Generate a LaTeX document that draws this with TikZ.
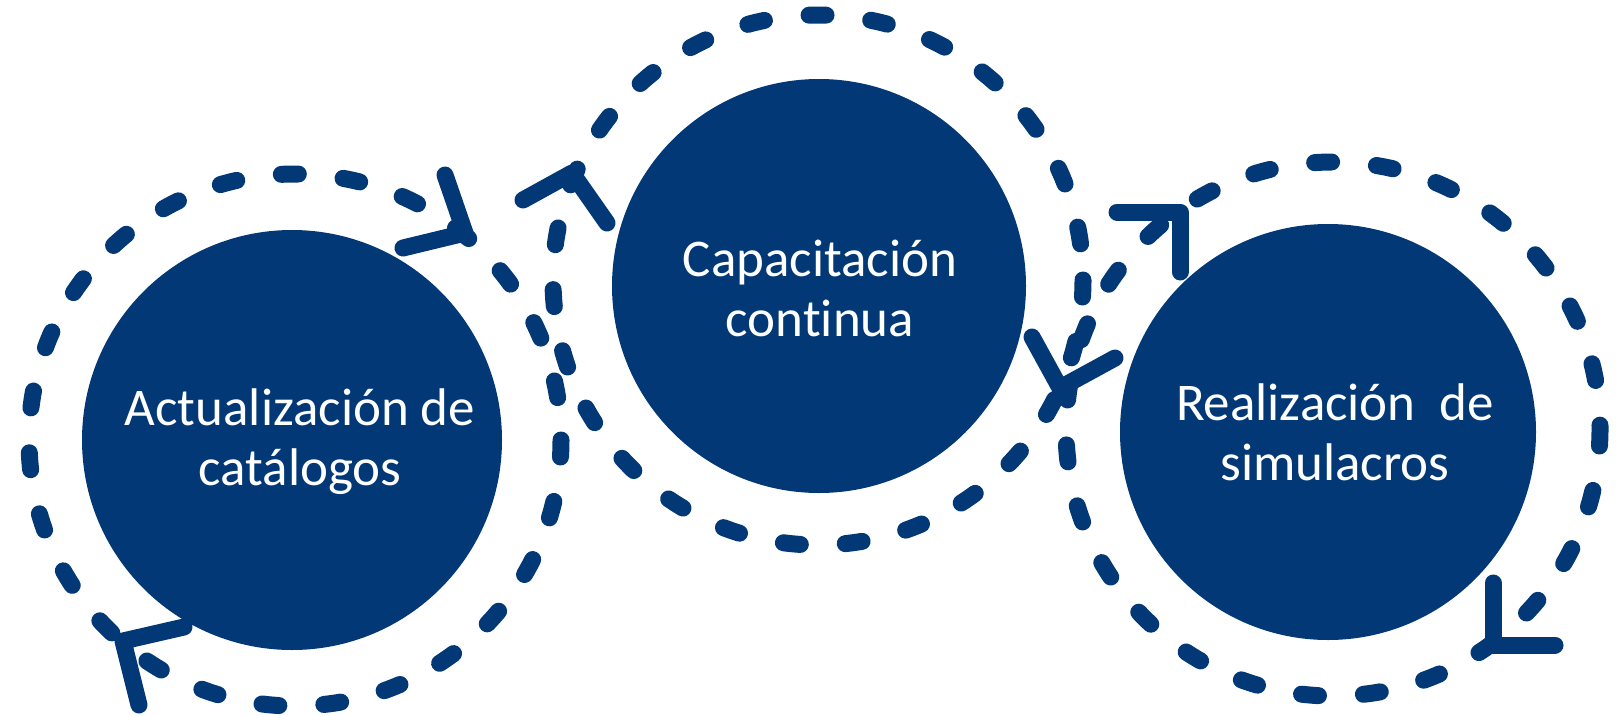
\documentclass[tikz,border=0pt]{standalone}
\usepackage{fontspec}
\setmainfont{Carlito}[Ligatures=NoCommon]
\definecolor{navy}{RGB}{2,56,117}
\begin{document}
\begin{tikzpicture}[x=1pt,y=-1pt,
  disc/.style={circle, fill=navy, minimum size=#1, inner sep=0pt},
  txt/.style={text=white, align=center, inner sep=0pt, font=\fontsize{53}{60}\selectfont},
  ring/.style={draw=navy, line width=17pt, line cap=round, dash pattern=on 17pt off 45pt},
  head/.style={draw=navy, line width=17pt, line cap=round, line join=round}]
\useasboundingbox (0,0) rectangle (1622,715);
% dashed rings
\draw[ring] (295,440) circle (266);
\draw[ring] (818,280) circle (265);
\draw[ring] (1333,429) circle (267);
% filled discs
\node[disc=420pt] (c1) at (292,440) {};
\node[disc=414pt] (c2) at (819,286) {};
\node[disc=416pt] (c3) at (1328,432) {};
% texts
\node[txt] (l1) at (300,442) {Actualización de\\catálogos};
\node[txt] (l2) at (820,288) {Capacitación\\continua};
\node[txt] (l3) at (1335,432) {Realización\ \ de\\simulacros};
% arrow heads
\coordinate (t1) at (465,233);
\coordinate (t2) at (123,641);
\coordinate (t3) at (572,173);
\coordinate (t4) at (1060,388);
\coordinate (t5) at (1180,212);
\coordinate (t6) at (1493,645);
\draw[head] (445,175) -- (t1) -- (403,248);
\draw[head] (184,627) -- (t2) -- (139,705);
\draw[head] (523,200) -- (t3) -- (607,223);
\draw[head] (1032,337) -- (t4) -- (1115,358);
\draw[head] (1117,212) -- (t5) -- (1180,272);
\draw[head] (1493,583) -- (t6) -- (1555,645);
\end{tikzpicture}
\end{document}
